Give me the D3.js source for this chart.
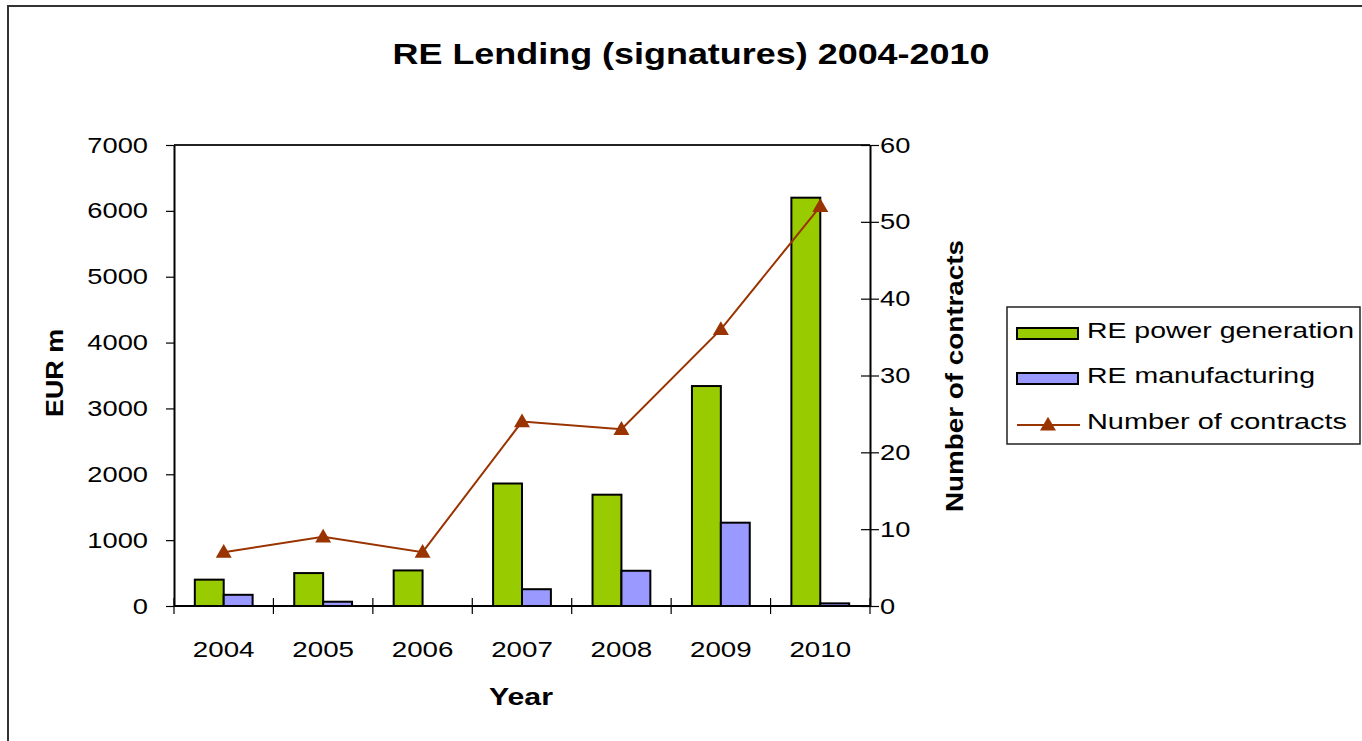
<!DOCTYPE html>
<html>
<head>
<meta charset="utf-8">
<script src="https://cdn.jsdelivr.net/npm/d3@7/dist/d3.min.js"></script>
<style>
  html, body { margin: 0; padding: 0; background: #fff; }
  svg { display: block; font-family: "Liberation Sans", Arial, sans-serif; }
</style>
</head>
<body>
<svg id="chart" width="1362" height="741"></svg>
<script>
// RE lending signatures per year
const years = ["2004", "2005", "2006", "2007", "2008", "2009", "2010"];
const powerGeneration = [400, 500, 540, 1860, 1690, 3340, 6200];
const manufacturing = [170, 65, 0, 255, 535, 1265, 40];
const contracts = [7, 9, 7, 24, 23, 36, 52];
const leftTicks = [0, 1000, 2000, 3000, 4000, 5000, 6000, 7000];
const rightTicks = [0, 10, 20, 30, 40, 50, 60];
const seriesNames = ["RE power generation", "RE manufacturing", "Number of contracts"];

const colors = { gen: "#99cc00", mfg: "#9999ff", line: "#993300" };

const svg = d3.select("#chart");
const plot = { left: 174, right: 870, top: 145, bottom: 606 };

// widen text horizontally to a target length
function stretch(sel, factor) {
  sel.each(function () {
    const w = this.getComputedTextLength();
    d3.select(this).attr("textLength", w * factor).attr("lengthAdjust", "spacingAndGlyphs");
  });
}
function fit(sel, len) {
  sel.attr("textLength", len).attr("lengthAdjust", "spacingAndGlyphs");
}

// outer chart frame
svg.append("rect")
  .attr("x", 8).attr("y", 6).attr("width", 1400).attr("height", 800)
  .attr("fill", "none").attr("stroke", "#333").attr("stroke-width", 2);

// title
svg.append("text")
  .attr("x", 691).attr("y", 64)
  .attr("text-anchor", "middle")
  .attr("font-size", 30).attr("font-weight", "bold")
  .text("RE Lending (signatures) 2004-2010")
  .call(fit, 597);

// scales
const x0 = d3.scaleBand().domain(years).range([plot.left, plot.right]).paddingInner(0).paddingOuter(0);
const x1 = d3.scaleBand().domain(["gen", "mfg"]).range([0, x0.bandwidth()]).paddingInner(0).paddingOuter(0.72);
const yL = d3.scaleLinear().domain([0, 7000]).range([plot.bottom, plot.top]);
const yR = d3.scaleLinear().domain([0, 60]).range([plot.bottom, plot.top]);

// plot frame (top edge)
svg.append("line")
  .attr("x1", plot.left).attr("x2", plot.right)
  .attr("y1", plot.top).attr("y2", plot.top)
  .attr("stroke", "#222").attr("stroke-width", 2);

// bars
const barData = years.map((yr, i) => ({ yr, gen: powerGeneration[i], mfg: manufacturing[i] }));
const groups = svg.append("g").selectAll("g").data(barData).join("g")
  .attr("transform", d => `translate(${x0(d.yr)},0)`);
["gen", "mfg"].forEach(k => {
  groups.filter(d => d[k] > 0).append("rect")
    .attr("x", x1(k))
    .attr("width", x1.bandwidth())
    .attr("y", d => yL(d[k]))
    .attr("height", d => yL(0) - yL(d[k]))
    .attr("fill", colors[k])
    .attr("stroke", "#000").attr("stroke-width", 2);
});

// left axis
const axL = svg.append("g")
  .attr("transform", `translate(${plot.left},0)`)
  .call(d3.axisLeft(yL).tickValues(leftTicks).tickFormat(d3.format("d")).tickSize(8).tickPadding(18).tickSizeOuter(0));
axL.select(".domain").attr("stroke", "#000").attr("stroke-width", 2);
axL.selectAll(".tick line").attr("stroke", "#000").attr("stroke-width", 1.2);
axL.selectAll(".tick text").attr("font-size", 22).attr("fill", "#000").attr("font-family", null).call(stretch, 1.24);

// right axis
const axR = svg.append("g")
  .attr("transform", `translate(${plot.right},0)`)
  .call(d3.axisRight(yR).tickValues(rightTicks).tickFormat(d3.format("d")).tickSize(9).tickPadding(1).tickSizeOuter(0));
axR.select(".domain").attr("stroke", "#000").attr("stroke-width", 2);
axR.selectAll(".tick line").attr("x1", -9).attr("stroke", "#000").attr("stroke-width", 1.2);
axR.selectAll(".tick text").attr("font-size", 22).attr("fill", "#000").attr("x", 10).attr("font-family", null).call(stretch, 1.24);

// bottom axis: ticks at category boundaries, labels at centres
const axB = svg.append("g");
axB.append("line")
  .attr("x1", plot.left).attr("x2", plot.right)
  .attr("y1", plot.bottom).attr("y2", plot.bottom)
  .attr("stroke", "#000").attr("stroke-width", 2);
const bounds = years.map(y => x0(y)).concat([x0(years[years.length - 1]) + x0.bandwidth()]);
axB.selectAll("line.tk").data(bounds).join("line")
  .attr("class", "tk")
  .attr("x1", d => d).attr("x2", d => d)
  .attr("y1", plot.bottom - 8).attr("y2", plot.bottom + 8)
  .attr("stroke", "#000").attr("stroke-width", 1.2);
axB.selectAll("text").data(years).join("text")
  .attr("x", d => x0(d) + x0.bandwidth() / 2)
  .attr("y", plot.bottom + 51)
  .attr("text-anchor", "middle")
  .attr("font-size", 22)
  .text(d => d)
  .call(stretch, 1.26);

// axis titles
svg.append("text")
  .attr("x", 521).attr("y", 705)
  .attr("text-anchor", "middle").attr("font-size", 24).attr("font-weight", "bold")
  .text("Year").call(fit, 64);
svg.append("text")
  .attr("transform", "translate(63,373) rotate(-90)")
  .attr("text-anchor", "middle").attr("font-size", 24).attr("font-weight", "bold")
  .text("EUR m").call(fit, 88);
svg.append("text")
  .attr("transform", "translate(963,376) rotate(-90)")
  .attr("text-anchor", "middle").attr("font-size", 23).attr("font-weight", "bold")
  .text("Number of contracts").call(fit, 272);

// contracts line with triangle markers
const cx = d => x0(d.yr) + x0.bandwidth() / 2;
const lineData = years.map((yr, i) => ({ yr, v: contracts[i] }));
svg.append("path")
  .datum(lineData)
  .attr("fill", "none").attr("stroke", colors.line).attr("stroke-width", 2)
  .attr("d", d3.line().x(cx).y(d => yR(d.v)));
const tri = d3.symbol().type(d3.symbolTriangle).size(110);
svg.append("g").selectAll("path").data(lineData).join("path")
  .attr("transform", d => `translate(${cx(d)},${yR(d.v) + 1})`)
  .attr("d", tri)
  .attr("fill", colors.line);

// legend
const lg = svg.append("g");
lg.append("rect")
  .attr("x", 1007).attr("y", 307).attr("width", 353).attr("height", 137)
  .attr("fill", "#fff").attr("stroke", "#222").attr("stroke-width", 1.5);
const lgY = [338, 383, 429];
const lgLen = [267, 228, 260];
lg.append("rect").attr("x", 1017).attr("y", 328).attr("width", 61).attr("height", 11)
  .attr("fill", colors.gen).attr("stroke", "#000").attr("stroke-width", 2);
lg.append("rect").attr("x", 1017).attr("y", 373).attr("width", 61).attr("height", 11)
  .attr("fill", colors.mfg).attr("stroke", "#000").attr("stroke-width", 2);
lg.append("line").attr("x1", 1017).attr("x2", 1080).attr("y1", 425).attr("y2", 425)
  .attr("stroke", colors.line).attr("stroke-width", 2);
lg.append("path").attr("transform", "translate(1048,426)").attr("d", tri).attr("fill", colors.line);
seriesNames.forEach((name, i) => {
  lg.append("text")
    .attr("x", 1087).attr("y", lgY[i])
    .attr("font-size", 22.5)
    .text(name).call(fit, lgLen[i]);
});
</script>
</body>
</html>
